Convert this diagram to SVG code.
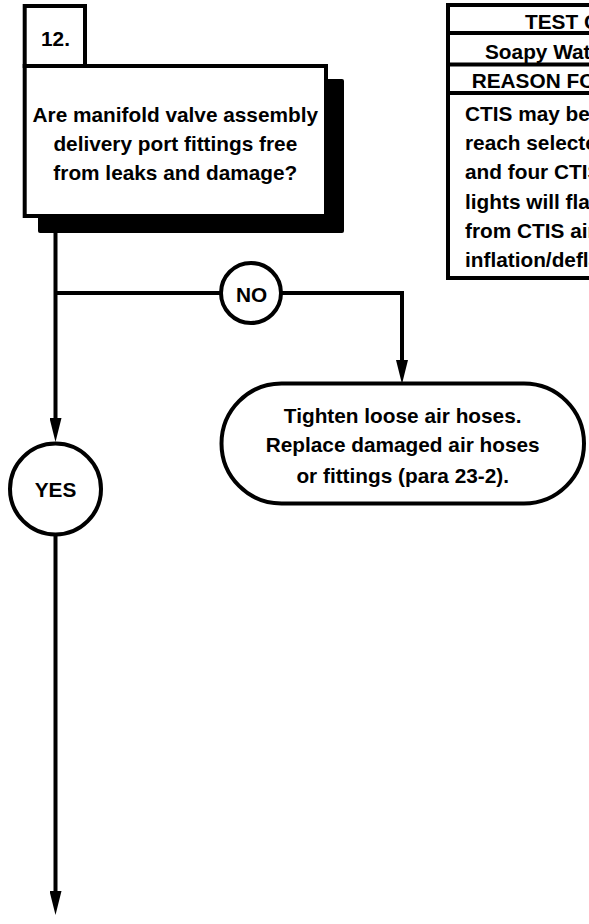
<svg xmlns="http://www.w3.org/2000/svg" width="589" height="924" viewBox="0 0 589 924">
  <style>
    .t { font-family: "Liberation Sans", Arial, Helvetica, sans-serif; font-weight: bold; font-size: 20.8px; fill: #000; }
    .c { text-anchor: middle; }
    .box { fill: #fff; stroke: #000; stroke-width: 4; }
    .ln { fill: none; stroke: #000; stroke-width: 4; }
  </style>
  <defs>
    <marker id="arr" viewBox="0 0 24 12" refX="14" refY="6" markerWidth="24" markerHeight="12" markerUnits="userSpaceOnUse" orient="auto">
      <path d="M0,0 L24,6 L0,12 z" fill="#000"/>
    </marker>
  </defs>

  <rect width="589" height="924" fill="#fff"/>

  <g id="connectors">
    <path class="ln" d="M55.5,233 V432" marker-end="url(#arr)"/>
    <path class="ln" d="M55.5,293 H221"/>
    <path class="ln" d="M281,293 H402 V374" marker-end="url(#arr)"/>
    <path class="ln" d="M55.5,534 V905" marker-end="url(#arr)"/>
  </g>

  <g id="step12">
    <rect class="box" x="24.7" y="6" width="60.3" height="60"/>
    <text class="t c" x="55.5" y="45.7">12.</text>
  </g>

  <g id="question">
    <rect x="38" y="79" width="306" height="154" rx="2" fill="#000"/>
    <rect class="box" x="24.7" y="66" width="301.3" height="150"/>
    <text class="t c" x="175.3" y="122">Are manifold valve assembly</text>
    <text class="t c" x="175.3" y="151">delivery port fittings free</text>
    <text class="t c" x="175.3" y="180">from leaks and damage?</text>
  </g>

  <g id="no">
    <circle class="box" cx="251" cy="293" r="30"/>
    <text class="t c" x="251.5" y="301.7">NO</text>
  </g>

  <g id="fix">
    <rect class="box" x="221.5" y="383.5" width="362.5" height="120" rx="60" ry="60"/>
    <text class="t c" x="402.7" y="422.7">Tighten loose air hoses.</text>
    <text class="t c" x="402.7" y="452.3">Replace damaged air hoses</text>
    <text class="t c" x="402.7" y="482.7">or fittings (para 23-2).</text>
  </g>

  <g id="yes">
    <circle class="box" cx="55.5" cy="489" r="45.5"/>
    <text class="t c" x="55.5" y="496.5">YES</text>
  </g>

  <g id="test-table">
    <rect class="box" x="448" y="5" width="200" height="273"/>
    <path class="ln" d="M448,33 H650 M448,64.5 H650 M448,93 H650"/>
    <text class="t" x="525" y="29.3">TEST C</text>
    <text class="t" x="485" y="59.3">Soapy Wat</text>
    <text class="t" x="471.7" y="88.3">REASON FO</text>
    <text class="t" x="465" y="120.7">CTIS may be</text>
    <text class="t" x="465" y="150">reach selecte</text>
    <text class="t" x="465" y="179.3">and four CTIS</text>
    <text class="t" x="465" y="208.5">lights will flas</text>
    <text class="t" x="465" y="237.8">from CTIS air</text>
    <text class="t" x="465" y="267">inflation/defla</text>
  </g>
</svg>
